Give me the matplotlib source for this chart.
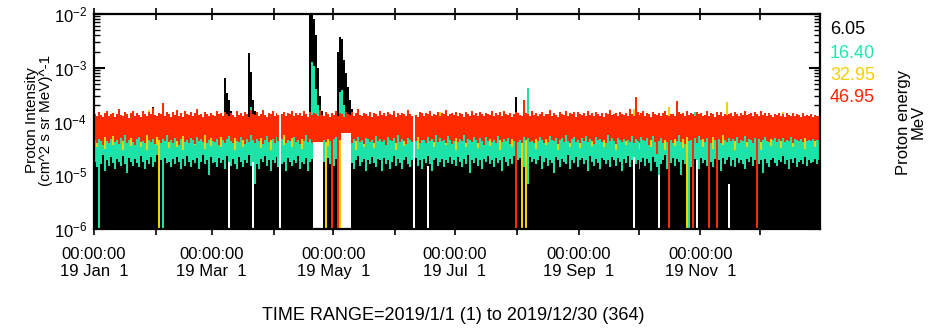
import numpy as np
import matplotlib
matplotlib.use('Agg')
import matplotlib.pyplot as plt
import matplotlib.dates as mdates
from matplotlib.ticker import LogLocator, FuncFormatter, NullFormatter

plt.rcParams['font.family'] = ['Liberation Sans', 'DejaVu Sans']
plt.rcParams['mathtext.fontset'] = 'custom'
plt.rcParams['mathtext.rm'] = 'Liberation Sans'

UNIT = 1e-6          # all intensities below are in 1e-6 /(cm^2 s sr MeV)
N_DAYS = 364
START = np.datetime64('2019-01-01')

energies = ['6.05', '16.40', '32.95', '46.95']
colors = ['#000000', '#1ee3a8', '#f2d200', '#ff2a00']
label_colors = ['#000000', '#1ee8b0', '#f5d000', '#ff2400']

# upper edge of the 46.95 MeV band, one value per day
red_top = [
    138, 126, 151, 132, 119, 144, 160, 128, 135, 147, 122, 139, 171, 130, 125, 149, 136, 118, 142, 155,
    129, 146, 133, 121, 158, 137, 127, 150, 140, 178, 131, 124, 145, 135, 220, 128, 152, 139, 120, 148,
    134, 162, 127, 141, 123, 156, 138, 130, 149, 125, 143, 168, 132, 137, 121, 153, 140, 129, 146, 133,
    124, 159, 136, 142, 128, 150, 139, 126, 147, 134, 122, 157, 131, 144, 127, 152, 138, 123, 161, 135,
    130, 148, 125, 140, 166, 133, 121, 145, 137, 154, 128, 142, 131, 139, 139, 150, 126, 143, 135, 158,
    124, 147, 132, 141, 127, 155, 136, 123, 149, 130, 144, 138, 125, 162, 134, 129, 151, 140, 122, 146,
    133, 157, 128, 143, 135, 120, 149, 139, 131, 153, 126, 141, 169, 134, 124, 147, 137, 129, 152, 122,
    145, 136, 127, 160, 131, 142, 125, 150, 138, 133, 156, 121, 144, 130, 147, 135, 126, 163, 139, 128,
    148, 134, 123, 152, 141, 129, 146, 137, 158, 125, 140, 132, 150, 127, 143, 136, 165, 124, 139, 147,
    130, 153, 128, 142, 135, 121, 149, 138, 126, 157, 133, 144, 129, 151, 137, 124, 146, 139, 131, 160,
    127, 141, 134, 148, 125, 155, 136, 130, 145, 122, 139, 152, 143, 133, 128, 250, 147, 138, 126, 158,
    132, 144, 129, 137, 151, 124, 140, 135, 163, 127, 146, 133, 121, 149, 138, 130, 155, 126, 142, 136,
    148, 123, 152, 139, 131, 145, 128, 159, 134, 141, 126, 150, 137, 129, 147, 122, 143, 135, 161, 130,
    139, 146, 125, 153, 136, 131, 144, 127, 168, 138, 124, 290, 149, 133, 141, 156, 128, 145, 135, 122,
    151, 137, 130, 147, 126, 142, 160, 134, 129, 135, 139, 125, 240, 152, 136, 143, 128, 157, 131, 146,
    138, 124, 150, 135, 144, 127, 133, 155, 129, 141, 137, 122, 148, 134, 153, 126, 140, 131, 136, 145,
    128, 151, 139, 124, 146, 133, 158, 130, 137, 143, 125, 149, 136, 128, 154, 132, 141, 126, 145, 134,
    123, 139, 131, 147, 127, 136, 121, 142, 133, 129, 145, 124, 138, 130, 119, 141, 127, 134, 125, 137,
    122, 132, 128, 126,
]

# lower edge of the 46.95 MeV band, one value per day
red_bottom = [
    45, 40, 48, 43, 37, 51, 44, 39, 47, 53, 41, 46, 38, 50, 43, 56, 40, 45, 49, 42,
    36, 47, 52, 41, 44, 39, 55, 46, 42, 48, 38, 51, 45, 40, 47, 43, 57, 41, 46, 39,
    50, 44, 37, 48, 53, 42, 46, 40, 49, 45, 38, 52, 43, 47, 41, 55, 39, 46, 50, 44,
    42, 48, 36, 51, 45, 40, 47, 54, 43, 39, 49, 44, 41, 52, 46, 38, 48, 42, 56, 45,
    40, 47, 43, 50, 38, 46, 53, 41, 45, 48, 39, 51, 44, 42, 47, 55, 40, 46, 43, 49,
    52, 41, 45, 38, 48, 44, 56, 42, 47, 40, 50, 43, 46, 39, 53, 45, 41, 48, 44, 37,
    47, 51, 42, 45, 40, 49, 43, 54, 46, 39, 48, 44, 52, 41, 45, 38, 50, 47, 42, 46,
    39, 53, 44, 48, 41, 46, 37, 51, 45, 43, 49, 40, 55, 42, 47, 44, 38, 50, 46, 41,
    48, 43, 52, 40, 46, 45, 39, 51, 44, 47, 42, 56, 41, 49, 43, 46, 40, 53, 45, 38,
    44, 50, 41, 47, 43, 55, 39, 48, 45, 42, 51, 46, 40, 49, 44, 37, 52, 43, 47, 41,
    46, 39, 53, 45, 42, 48, 44, 50, 38, 47, 43, 55, 41, 46, 40, 51, 45, 49, 42, 44,
    40, 48, 43, 52, 46, 39, 47, 41, 54, 45, 43, 50, 38, 46, 49, 42, 56, 44, 40, 47,
    51, 42, 46, 39, 49, 44, 53, 41, 47, 43, 38, 52, 45, 48, 42, 46, 40, 55, 44, 49,
    43, 38, 50, 45, 41, 47, 44, 46, 42, 53, 40, 48, 44, 39, 51, 45, 43, 49, 37, 46,
    54, 41, 25, 44, 50, 39, 46, 42, 52, 45, 40, 48, 43, 56, 41, 47, 38, 51, 44, 46,
    42, 49, 40, 53, 45, 47, 41, 50, 44, 39, 52, 46, 43, 48, 40, 55, 45, 42, 49, 44,
    47, 43, 51, 40, 46, 44, 53, 41, 48, 45, 39, 50, 43, 47, 42, 46, 52, 44, 41, 48,
    45, 50, 42, 47, 43, 49, 41, 46, 44, 51, 40, 48, 45, 43, 47, 42, 50, 44, 46, 43,
    48, 44, 46, 45,
]

# lower edge of the 16.40 MeV band, one value per day
cyan_bottom = [
    18, 14, 21, 16, 24, 12, 19, 15, 22, 17, 13, 20, 18, 15, 23, 16, 11, 21, 18, 15,
    20, 17, 14, 23, 18, 13, 19, 16, 22, 14, 18, 24, 15, 19, 12, 21, 17, 18, 14, 20,
    16, 22, 18, 13, 20, 15, 23, 18, 14, 19, 17, 21, 13, 18, 24, 16, 19, 10, 22, 17,
    18, 14, 21, 17, 19, 13, 23, 18, 15, 20, 16, 13, 22, 18, 14, 19, 17, 24, 15, 18,
    21, 16, 13, 20, 18, 23, 15, 19, 12, 19, 17, 22, 14, 20, 16, 18, 12, 21, 18, 15,
    19, 17, 23, 13, 18, 16, 21, 12, 18, 20, 15, 22, 17, 14, 19, 18, 13, 21, 16, 19,
    15, 20, 18, 10, 22, 16, 19, 14, 21, 17, 13, 19, 23, 15, 18, 20, 12, 19, 16, 22,
    17, 14, 20, 19, 12, 21, 16, 19, 13, 18, 23, 15, 20, 17, 13, 19, 22, 16, 14, 19,
    18, 21, 15, 19, 13, 20, 17, 23, 16, 12, 19, 21, 15, 18, 20, 14, 19, 17, 22, 16,
    19, 15, 22, 18, 14, 20, 16, 24, 11, 19, 17, 21, 15, 19, 13, 20, 18, 23, 16, 19,
    14, 21, 17, 19, 12, 22, 18, 15, 20, 16, 23, 13, 19, 21, 17, 14, 19, 13, 22, 18,
    20, 16, 19, 23, 13, 18, 21, 15, 19, 17, 11, 22, 19, 14, 20, 18, 16, 24, 13, 19,
    17, 22, 14, 19, 21, 16, 19, 12, 23, 18, 15, 20, 17, 13, 21, 19, 16, 19, 14, 22,
    19, 15, 21, 18, 12, 20, 17, 23, 14, 19, 22, 16, 19, 13, 18, 21, 15, 20, 17, 12,
    22, 18, 14, 20, 16, 19, 24, 13, 19, 17, 21, 15, 20, 18, 10, 19, 16, 22, 19, 14,
    16, 20, 19, 13, 21, 17, 19, 15, 23, 18, 14, 20, 17, 19, 12, 21, 16, 19, 22, 15,
    19, 14, 21, 17, 19, 16, 13, 20, 18, 22, 15, 19, 21, 16, 19, 11, 20, 17, 14, 19,
    21, 17, 15, 19, 18, 23, 16, 19, 13, 20, 17, 21, 14, 18, 19, 16, 22, 15, 19, 17,
    18, 20, 16, 19,
]

# short stretches where the 32.95 MeV channel shows below the red band
yellow_low_days = [1, 5, 9, 14, 18, 23, 26, 31, 37, 41, 44, 50, 55, 58, 63, 70, 74, 83, 88, 95,
                   99, 104, 117, 131, 135, 140, 146, 151, 155, 162, 170, 176, 181, 186, 192, 198,
                   203, 209, 221, 226, 232, 238, 243, 249, 255, 261, 266, 273, 279, 286, 291, 295,
                   305, 310, 315, 321, 327, 334, 339, 344, 350, 356, 361]
yellow_low_vals = [34, 31, 36, 30, 35, 33, 29, 37, 32, 34, 30, 36, 31, 35, 33, 29, 34, 32, 30, 36,
                   33, 31, 35, 30, 34, 32, 37, 29, 35, 31, 33, 36, 30, 34, 32, 35, 29, 33, 31, 36,
                   30, 34, 32, 35, 33, 29, 36, 31, 34, 30, 35, 32, 33, 31, 36, 30, 34, 29, 35, 32,
                   33, 31, 34]

# levels hidden under the next band
black_level = 40
cyan_level = 70
yellow_level = 100
yellow_floor = 60
floor_level = 0.1

# particle events (day of year from 0, value)
black_peak_days = [29, 65, 66, 67, 68, 77, 78, 79, 80, 108, 109, 110, 111, 112, 113, 114,
                   122, 123, 124, 125, 126, 127, 128, 129, 211]
black_peak_vals = [185, 650, 340, 250, 160, 1900, 840, 250, 160, 12000, 12000, 8000, 4000, 1000, 300, 160,
                   2000, 3700, 3500, 1400, 800, 440, 250, 170, 280]
cyan_peak_days = [78, 109, 110, 111, 112, 123, 124, 125, 217, 301]
cyan_peak_vals = [190, 1300, 1100, 400, 200, 350, 390, 200, 420, 150]
yellow_peak_days = [0, 27, 173, 270, 288, 317, 345]
yellow_peak_vals = [140, 165, 150, 170, 190, 230, 150]

# drop-outs of single channels
black_gap_days = [270, 283, 302]
black_low_days = [67, 79, 167, 318]
black_low_vals = [28, 27, 15, 7]
cyan_dip_days = [2, 34, 80, 217, 283, 298]
cyan_dip_vals = [0.5, 0.5, 7, 7, 10, 0.5]
yellow_dip_days = [32, 116, 123, 214, 216, 297]
red_dip_days = [119, 122, 211, 288, 300, 308, 312, 332]

# days where nothing was recorded below a level, and full gaps
floor_days = [110, 111, 112, 113, 114, 124, 125, 126, 127, 128]
floor_vals = [42, 42, 42, 42, 42, 62, 62, 62, 62, 62]
gap_days = [93, 160]

black_lo = np.full(N_DAYS, floor_level)
black_hi = np.full(N_DAYS, float(black_level))
black_hi[black_peak_days] = black_peak_vals
black_lo[black_low_days] = black_low_vals
black_lo[black_gap_days] = np.nan
black_hi[black_gap_days] = np.nan

cyan_lo = np.array(cyan_bottom, float)
cyan_lo[cyan_dip_days] = cyan_dip_vals
cyan_hi = np.full(N_DAYS, float(cyan_level))
cyan_hi[cyan_peak_days] = cyan_peak_vals

yellow_lo = np.full(N_DAYS, float(yellow_floor))
yellow_lo[yellow_low_days] = yellow_low_vals
yellow_lo[yellow_dip_days] = 0.5
yellow_hi = np.full(N_DAYS, float(yellow_level))
yellow_hi[yellow_peak_days] = yellow_peak_vals

red_lo = np.array(red_bottom, float)
red_lo[red_dip_days] = 0.5
red_hi = np.array(red_top, float)

bands = [(black_lo, black_hi), (cyan_lo, cyan_hi), (yellow_lo, yellow_hi), (red_lo, red_hi)]
for lo, hi in bands:
    lo[floor_days] = floor_vals
    lo[gap_days] = np.nan
    hi[gap_days] = np.nan

# each day drawn as a flat step from its start to its end
day_num = mdates.date2num(START) + np.arange(N_DAYS)
xs = np.column_stack([day_num, day_num + 1]).ravel()

fig = plt.figure(figsize=(9.32, 3.34), dpi=100)
ax = fig.add_axes([94 / 932, 1 - 229 / 334, 726 / 932, 215 / 334])

for i, (lo, hi) in enumerate(bands):
    ax.fill_between(xs, np.repeat(lo, 2) * UNIT, np.repeat(hi, 2) * UNIT,
                    color=colors[i], lw=0, zorder=2 + i)

ax.set_yscale('log')
ax.set_ylim(1e-6, 1e-2)
ax.set_xlim(day_num[0], day_num[0] + N_DAYS)

ax.yaxis.set_major_locator(LogLocator(base=10))
ax.yaxis.set_minor_locator(LogLocator(base=10, subs=np.arange(2, 10)))
ax.yaxis.set_minor_formatter(NullFormatter())

ax.xaxis.set_major_locator(mdates.MonthLocator(bymonth=[1, 3, 5, 7, 9, 11]))
ax.xaxis.set_minor_locator(mdates.MonthLocator(bymonth=[2, 4, 6, 8, 10, 12]))


def date_label(v, pos):
    d = mdates.num2date(v)
    return f"{d:%H:%M:%S}\n{d:%y %b}  {d.day}"


ax.xaxis.set_major_formatter(FuncFormatter(date_label))

ax.tick_params(axis='x', which='both', direction='inout', length=8, width=1.2,
               top=True, labelsize=12, pad=9)
ax.tick_params(axis='y', which='major', direction='in', length=8, width=1.5,
               right=True, labelsize=12, pad=5)
ax.tick_params(axis='y', which='minor', direction='in', length=4, width=1.0, right=True)
for s in ax.spines.values():
    s.set_linewidth(1.6)
    s.set_zorder(10)

fig.text(39 / 932, 1 - 120 / 334, 'Proton Intensity\n(cm^2 s sr MeV)^-1',
         rotation=90, ha='center', va='center', fontsize=11, linespacing=1.05)
fig.text(911 / 932, 1 - 122 / 334, 'Proton energy\nMeV',
         rotation=90, ha='center', va='center', fontsize=12, linespacing=1.0)
for name, c, y in zip(energies, label_colors, [30, 53, 76, 98]):
    fig.text(830 / 932, 1 - y / 334, name, color=c, ha='left', va='center', fontsize=13)
fig.text(453 / 932, 1 - 316 / 334, 'TIME RANGE=2019/1/1 (1) to 2019/12/30 (364)',
         ha='center', va='center', fontsize=13)

fig.savefig('out.png', dpi=100)
